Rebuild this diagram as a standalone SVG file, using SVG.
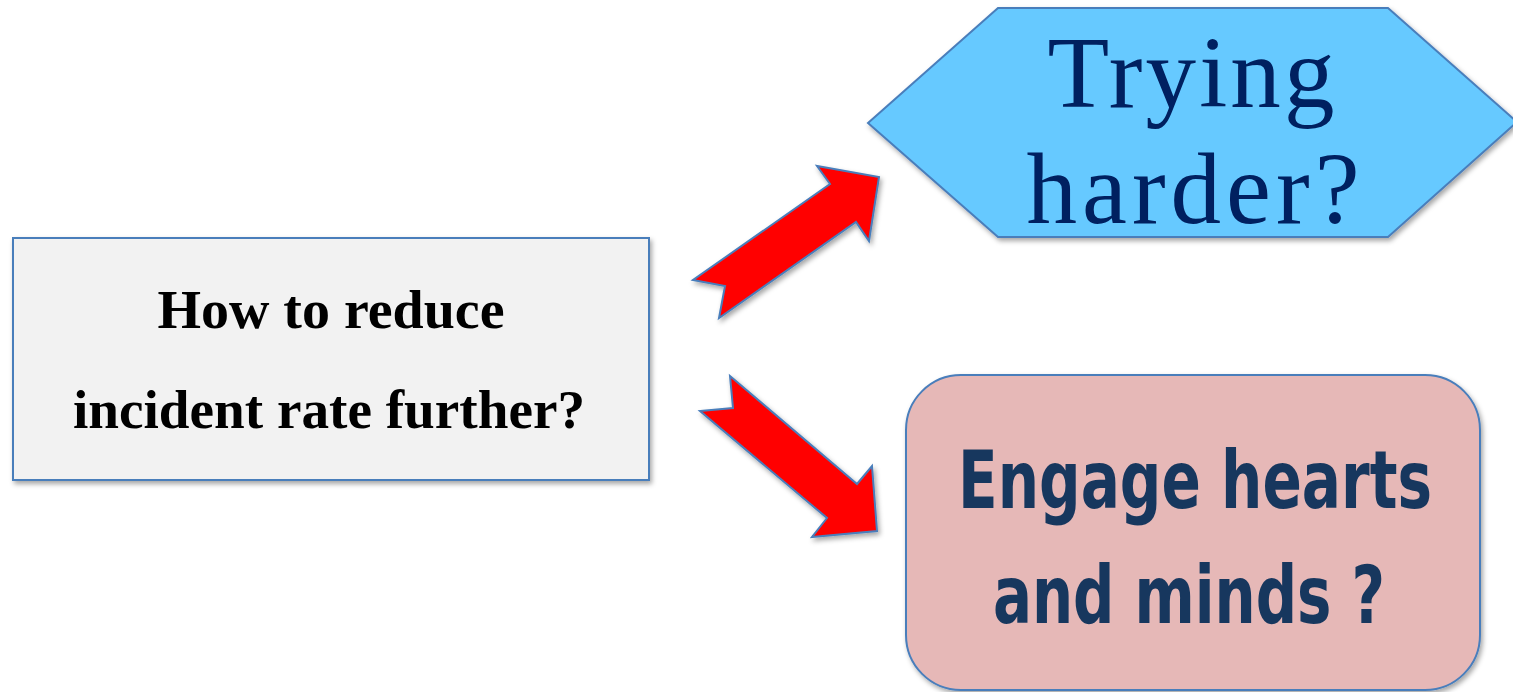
<svg xmlns="http://www.w3.org/2000/svg" width="1513" height="692" viewBox="0 0 1513 692">
<style>
.shape{stroke:#4a7ebb;stroke-width:2;stroke-linejoin:miter}
.arrow{fill:#ff0000;stroke:#4a7ebb;stroke-width:2;stroke-linejoin:miter}
.q{font-family:"Liberation Serif","Times New Roman",serif;font-weight:bold;font-size:55px;fill:#000;text-anchor:middle}
.t{font-family:"Liberation Serif","DejaVu Serif",serif;font-size:101px;fill:#002060;text-anchor:middle}
.e{font-family:"Liberation Sans Narrow","DejaVu Sans Condensed","Liberation Sans",sans-serif;font-weight:bold;font-size:80px;fill:#17375e;text-anchor:middle}
</style>
<defs>
<filter id="sh" x="-10%" y="-10%" width="125%" height="130%">
<feDropShadow dx="2" dy="3" stdDeviation="2.5" flood-color="#000" flood-opacity="0.35"/>
</filter>
</defs>
<rect width="1513" height="692" fill="#ffffff"/>
<g id="connectors">
<polygon class="arrow" filter="url(#sh)" points="693,280 725,286 719,318 856,222 869,241 879,177 817,166 830,184"/>
<polygon class="arrow" filter="url(#sh)" points="730,376 857,484 872,466 877,531 812,537 827,518 700,411 733,408"/>
</g>
<g id="node-question">
<rect class="shape" filter="url(#sh)" x="13" y="238" width="636" height="242" fill="#f2f2f2"/>
<text class="q" x="331" y="328" textLength="347" lengthAdjust="spacingAndGlyphs">How to reduce</text>
<text class="q" x="329" y="428" textLength="512" lengthAdjust="spacingAndGlyphs">incident rate further?</text>
</g>
<g id="node-trying">
<polygon class="shape" filter="url(#sh)" points="868,123 998,8 1388,8 1517,122 1388,237 998,237" fill="#66c9ff"/>
<text class="t" x="1191" y="107" textLength="287" lengthAdjust="spacing">Trying</text>
<text class="t" x="1193" y="223" textLength="333" lengthAdjust="spacing">harder?</text>
</g>
<g id="node-engage">
<rect class="shape" filter="url(#sh)" x="906" y="375" width="574" height="315" rx="55" ry="55" fill="#e6b8b7"/>
<text class="e" x="1195" y="508" textLength="474" lengthAdjust="spacingAndGlyphs">Engage hearts</text>
<text class="e" x="1189" y="623" textLength="392" lengthAdjust="spacingAndGlyphs">and minds ?</text>
</g>
</svg>
